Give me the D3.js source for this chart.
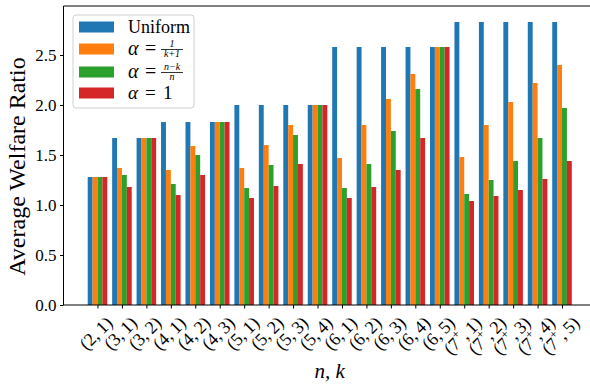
<!DOCTYPE html>
<html><head><meta charset="utf-8">
<script src="https://cdn.jsdelivr.net/npm/d3@7"></script>
<style>body{margin:0;background:#fff}svg{display:block}text{font-family:"Liberation Serif","Times New Roman",serif}</style>
</head><body><svg id="c" width="590" height="385"></svg>
<script>
const categories = [["2","1"],["3","1"],["3","2"],["4","1"],["4","2"],["4","3"],["5","1"],["5","2"],["5","3"],["5","4"],["6","1"],["6","2"],["6","3"],["6","4"],["6","5"],["7+","1"],["7+","2"],["7+","3"],["7+","4"],["7+","5"]];
const uniform  = [1.28,1.67,1.67,1.83,1.83,1.83,2.00,2.00,2.00,2.00,2.58,2.58,2.58,2.58,2.58,2.83,2.83,2.83,2.83,2.83];
const alphaInv = [1.28,1.37,1.67,1.35,1.59,1.83,1.37,1.60,1.80,2.00,1.47,1.80,2.06,2.31,2.58,1.48,1.80,2.03,2.22,2.40];
const alphaNK  = [1.28,1.30,1.67,1.21,1.50,1.83,1.17,1.40,1.70,2.00,1.17,1.41,1.74,2.16,2.58,1.11,1.25,1.44,1.67,1.97];
const alphaOne = [1.28,1.18,1.67,1.10,1.30,1.83,1.07,1.19,1.41,2.00,1.07,1.18,1.35,1.67,2.58,1.04,1.09,1.15,1.26,1.44];
const yTicks = [0,0.5,1.0,1.5,2.0,2.5];
const series = [uniform, alphaInv, alphaNK, alphaOne];
const colors = ["#1f77b4","#ff7f0e","#2ca02c","#d62728"];

const svg = d3.select("#c");
const pL=63.5, pR=596, pT=6, pB=305;
const x = d3.scaleLinear().domain([-1.39, 20.39]).range([pL, pR]);
const y = d3.scaleLinear().domain([0, 2.99]).range([pB, pT]);
const bw = 0.2;

series.forEach((s,si)=>{
  svg.append("g").selectAll("rect").data(s).join("rect")
    .attr("x",(d,i)=>x(i-0.4+si*bw))
    .attr("width",x(bw)-x(0))
    .attr("y",d=>y(d))
    .attr("height",d=>y(0)-y(d))
    .attr("fill",colors[si]);
});

const yAxis = d3.axisLeft(y).tickValues(yTicks).tickFormat(d3.format(".1f")).tickSize(3.5).tickPadding(3.5);
const gy = svg.append("g").attr("transform",`translate(${pL},0)`).call(yAxis);
gy.select(".domain").remove();
gy.selectAll("text").attr("font-size",17).attr("font-family","Liberation Serif").attr("fill","#000");
gy.selectAll("line").attr("stroke","#000");

const gx = svg.append("g").attr("transform",`translate(0,${pB})`)
  .call(d3.axisBottom(x).tickValues(d3.range(categories.length)).tickFormat("").tickSize(3.5));
gx.select(".domain").remove();
gx.selectAll("line").attr("stroke","#000");

const fs=18;
categories.forEach((c,i)=>{
  const t = svg.append("text").attr("font-size",fs).attr("fill","#000")
    .attr("text-anchor","middle").attr("dominant-baseline","central");
  t.append("tspan").text("(");
  if(c[0]==="7+"){
    t.append("tspan").text("7");
    t.append("tspan").text("+").attr("font-size",12).attr("dy",-6);
    t.append("tspan").text(",\u2009"+c[1]+")").attr("dy",6);
  } else {
    t.append("tspan").text(c[0]+",\u2009"+c[1]+")");
  }
  const w = t.node().getComputedTextLength();
  const h = fs*1.0;
  const bb = (w+h)/Math.SQRT2;
  const cx = x(i)-1.5, cy = pB+3.5+5+bb/2;
  t.attr("transform",`translate(${cx},${cy}) rotate(-45)`);
});

svg.append("line").attr("x1",pL).attr("x2",pL).attr("y1",pT).attr("y2",pB).attr("stroke","#000").attr("stroke-width",1);
svg.append("line").attr("x1",pL).attr("x2",pR).attr("y1",pB).attr("y2",pB).attr("stroke","#000").attr("stroke-width",1);
svg.append("line").attr("x1",pL).attr("x2",pR).attr("y1",pT).attr("y2",pT).attr("stroke","#000").attr("stroke-width",1);

svg.append("text").attr("transform",`translate(25,${(pT+pB)/2+11}) rotate(-90)`)
  .attr("text-anchor","middle").attr("font-size",24).text("Average Welfare Ratio");
svg.append("text").attr("x",(pL+pR)/2).attr("y",378).attr("text-anchor","middle")
  .attr("font-size",21).attr("font-style","italic").text("n, k");

const lg = svg.append("g");
lg.append("rect").attr("x",73).attr("y",15).attr("width",121).attr("height",93).attr("rx",3)
  .attr("fill","#fff").attr("fill-opacity",0.8).attr("stroke","#d0d0d0").attr("stroke-width",1);
const rowsY=[27,49,72,93];
rowsY.forEach((ry,i)=>{
  lg.append("rect").attr("x",79).attr("y",ry-5.5).attr("width",35).attr("height",11).attr("fill",colors[i]);
});
const tx=128;
lg.append("text").attr("x",tx).attr("y",rowsY[0]+6).attr("font-size",18).text("Uniform");
function alphaEq(ry, f){
  lg.append("text").attr("x",tx).attr("y",ry+6).attr("font-size",f).attr("font-style","italic").text("α");
  lg.append("text").attr("x",tx+17).attr("y",ry+6).attr("font-size",f).text("=");
}
function frac(cxx, ry, num, den){
  lg.append("text").attr("x",cxx).attr("y",ry-2).attr("font-size",10).attr("text-anchor","middle").attr("font-style","italic").text(num);
  lg.append("text").attr("x",cxx).attr("y",ry+8).attr("font-size",10).attr("text-anchor","middle").attr("font-style","italic").text(den);
}
alphaEq(rowsY[1], 20);
frac(172, rowsY[1], "1", "k+1");
lg.append("line").attr("x1",161).attr("x2",183).attr("y1",rowsY[1]+0.5).attr("y2",rowsY[1]+0.5).attr("stroke","#000").attr("stroke-width",0.8);
alphaEq(rowsY[2], 20);
frac(172, rowsY[2], "n−k", "n");
lg.append("line").attr("x1",161).attr("x2",183).attr("y1",rowsY[2]+0.5).attr("y2",rowsY[2]+0.5).attr("stroke","#000").attr("stroke-width",0.8);
alphaEq(rowsY[3], 19);
lg.append("text").attr("x",tx+35).attr("y",rowsY[3]+6).attr("font-size",19).text("1");
</script></body></html>
